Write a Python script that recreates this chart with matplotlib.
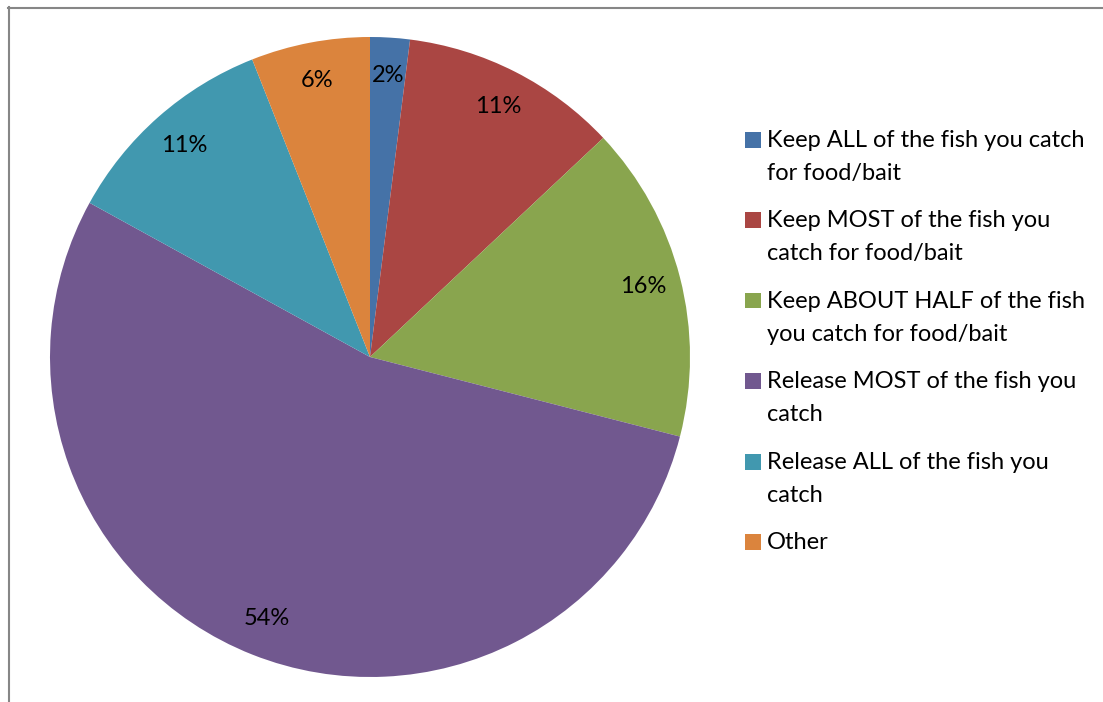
import matplotlib
matplotlib.use("Agg")
import matplotlib.pyplot as plt
from matplotlib.lines import Line2D
from matplotlib.patches import Rectangle

# Survey answers: what anglers do with the fish they catch
categories = [
    "Keep ALL of the fish you catch\nfor food/bait",
    "Keep MOST of the fish you\ncatch for food/bait",
    "Keep ABOUT HALF of the fish\nyou catch for food/bait",
    "Release MOST of the fish you\ncatch",
    "Release ALL of the fish you\ncatch",
    "Other",
]
shares = [2, 11, 16, 54, 11, 6]
colors = ["#4572A7", "#AA4643", "#89A54E", "#71588F", "#4198AF", "#DB843D"]

W, H = 1103, 702
FONT = "Lato"
FS = 17
fig = plt.figure(figsize=(W / 100, H / 100), dpi=100)
fig.patch.set_facecolor("white")


def fx(px):
    return px / W


def fy(py):
    return 1 - py / H


# chart-area frame (top and left edges visible)
fig.add_artist(Line2D([fx(8), 1.0], [fy(7.5), fy(7.5)], transform=fig.transFigure,
                      color="#868686", lw=1.5))
fig.add_artist(Line2D([fx(8.5), fx(8.5)], [fy(7), 0.0], transform=fig.transFigure,
                      color="#868686", lw=1.5))

# pie
cx, cy, r = 370, 357, 320
ax = fig.add_axes([fx(cx - r), fy(cy + r), (2 * r) / W, (2 * r) / H])
wedges, texts, autotexts = ax.pie(
    shares, colors=colors, startangle=90, counterclock=False,
    autopct="%.0f%%", pctdistance=0.88, radius=1,
    wedgeprops=dict(linewidth=0),
    textprops=dict(fontsize=FS, family=FONT, color="black"),
)
ax.set_xlim(-1, 1)
ax.set_ylim(-1, 1)
ax.set_aspect("equal")
ax.axis("off")

# legend: colour square plus wrapped label for each category
baselines = [147, 227, 308, 388, 469, 549]
line_gap = 33
for label, col, base in zip(categories, colors, baselines):
    fig.add_artist(Rectangle((fx(745), fy(base + 0.5)), fx(16), 16 / H,
                             transform=fig.transFigure, facecolor=col,
                             edgecolor="none"))
    for i, line in enumerate(label.split("\n")):
        fig.text(fx(767), fy(base + i * line_gap), line, fontsize=FS,
                 family=FONT, color="black", ha="left", va="baseline")

fig.savefig("out.png", dpi=100)
